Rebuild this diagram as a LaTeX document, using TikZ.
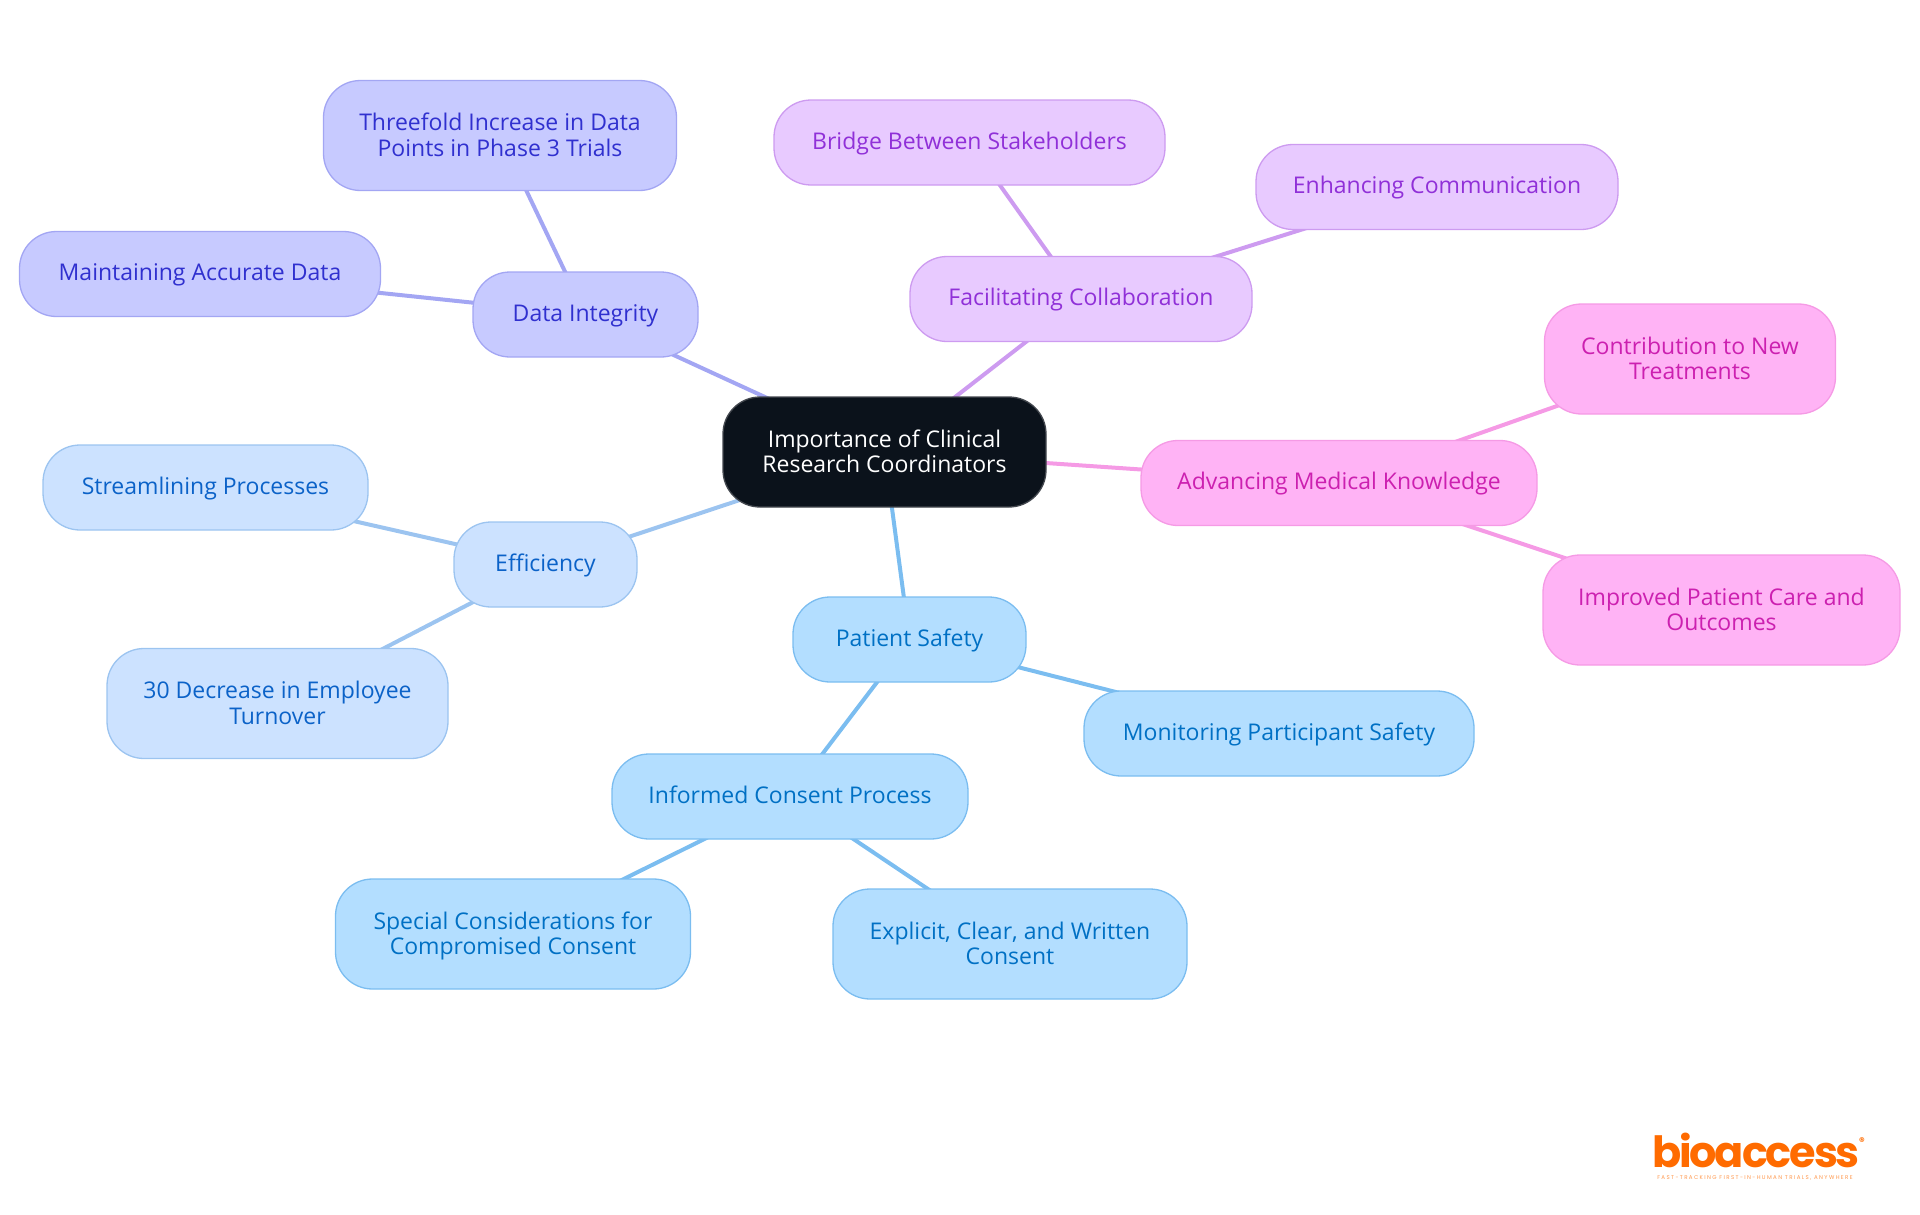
\documentclass[tikz,border=0pt]{standalone}
\usepackage{fontspec}
\setmainfont{Open Sans}
\newfontfamily\logofont[LetterSpace=-5]{Poppins}
\newfontfamily\regfont{Poppins}
\newfontfamily\tagfont[LetterSpace=25]{Poppins}
\usepackage{tikz}
\usetikzlibrary{backgrounds}
\definecolor{rootfill}{HTML}{0B121B}
\definecolor{rootline}{HTML}{43474E}
\definecolor{indigofill}{HTML}{C7CAFF}
\definecolor{indigoline}{HTML}{A3A6F3}
\definecolor{indigotext}{HTML}{3030CF}
\definecolor{purplefill}{HTML}{E8CAFF}
\definecolor{purpleline}{HTML}{CD9BF0}
\definecolor{purpletext}{HTML}{9030D8}
\definecolor{pinkfill}{HTML}{FFB3F5}
\definecolor{pinkline}{HTML}{F59AE5}
\definecolor{pinktext}{HTML}{CC20B0}
\definecolor{skyfill}{HTML}{B3DEFF}
\definecolor{skyline}{HTML}{7BBDF0}
\definecolor{skytext}{HTML}{0070C4}
\definecolor{bluefill}{HTML}{CCE2FF}
\definecolor{blueline}{HTML}{9CC4F0}
\definecolor{bluetext}{HTML}{0B62C8}
\definecolor{logoorange}{HTML}{FF6B00}

\begin{document}
\begin{tikzpicture}[x=1pt, y=-1pt,
    box/.style = {rounded corners=37pt, line width=1.3pt, inner sep=0pt, align=center,
      font=\fontsize{23}{25.5}\selectfont},
    single/.style = {box, minimum height=85pt, minimum width=#1, text height=19pt, text depth=6pt},
    double/.style = {box, minimum height=110pt, minimum width=#1, text height=47.5pt, text depth=6pt},
    root/.style = {draw=rootline, fill=rootfill, text=white},
    indigo/.style = {draw=indigoline, fill=indigofill, text=indigotext},
    purple/.style = {draw=purpleline, fill=purplefill, text=purpletext},
    pink/.style = {draw=pinkline, fill=pinkfill, text=pinktext},
    sky/.style = {draw=skyline, fill=skyfill, text=skytext},
    blue/.style = {draw=blueline, fill=bluefill, text=bluetext},
    link/.style = {line width=4pt}]
  \useasboundingbox (0,0) rectangle (1920,1215);

  \node[double=323pt, root] (main) at (884.5,452) {Importance of Clinical\\Research Coordinators};

  \node[single=225pt, indigo] (integrity) at (585.5,314.5) {Data Integrity};
  \node[double=353pt, indigo] (threefold) at (500,135.5) {Threefold Increase in Data\\Points in Phase 3 Trials};
  \node[single=361pt, indigo] (accurate) at (200,274) {Maintaining Accurate Data};

  \node[single=342pt, purple] (collab) at (1081,299) {Facilitating Collaboration};
  \node[single=391pt, purple] (bridge) at (969.5,142.5) {Bridge Between Stakeholders};
  \node[single=362pt, purple] (comm) at (1437,187) {Enhancing Communication};

  \node[single=396pt, pink] (medical) at (1339,483) {Advancing Medical Knowledge};
  \node[double=291pt, pink] (treat) at (1690,359) {Contribution to New\\Treatments};
  \node[double=357pt, pink] (care) at (1721.5,610) {Improved Patient Care and\\Outcomes};

  \node[single=183pt, blue] (effic) at (545.5,564.5) {Efficiency};
  \node[single=325pt, blue] (stream) at (205.5,487.5) {Streamlining Processes};
  \node[double=341pt, blue] (turnover) at (277.5,703.5) {30 Decrease in Employee\\Turnover};

  \node[single=233pt, sky] (safety) at (909.5,639.5) {Patient Safety};
  \node[single=390pt, sky] (monitor) at (1279,733.5) {Monitoring Participant Safety};
  \node[single=356pt, sky] (consent) at (790,796.5) {Informed Consent Process};
  \node[double=355pt, sky] (special) at (513,934) {Special Considerations for\\Compromised Consent};
  \node[double=354pt, sky] (explicit) at (1010,944) {Explicit, Clear, and Written\\Consent};

  \begin{scope}[on background layer]
    \draw[link, indigoline] (main.center) -- (integrity.center);
    \draw[link, indigoline] (integrity.center) -- (threefold.center);
    \draw[link, indigoline] (integrity.center) -- (accurate.center);
    \draw[link, purpleline] (main.center) -- (collab.center);
    \draw[link, purpleline] (collab.center) -- (bridge.center);
    \draw[link, purpleline] (collab.center) -- (comm.center);
    \draw[link, pinkline] (main.center) -- (medical.center);
    \draw[link, pinkline] (medical.center) -- (treat.center);
    \draw[link, pinkline] (medical.center) -- (care.center);
    \draw[link, blueline] (main.center) -- (effic.center);
    \draw[link, blueline] (effic.center) -- (stream.center);
    \draw[link, blueline] (effic.center) -- (turnover.center);
    \draw[link, skyline] (main.center) -- (safety.center);
    \draw[link, skyline] (safety.center) -- (monitor.center);
    \draw[link, skyline] (safety.center) -- (consent.center);
    \draw[link, skyline] (consent.center) -- (special.center);
    \draw[link, skyline] (consent.center) -- (explicit.center);
  \end{scope}

  % logo
  \node[anchor=base, inner sep=0pt, text=logoorange, font=\logofont\bfseries\fontsize{43}{43}\selectfont] (logo) at (1756,1167) {bioaccess};
  \node[inner sep=0pt, text=logoorange, font=\regfont\bfseries\fontsize{11}{11}\selectfont] (reg) at (1862,1142) {®};
  \node[inner sep=0pt, text=logoorange!70, font=\tagfont\fontsize{5.5}{6}\selectfont] (tag) at (1755,1178) {FAST-TRACKING FIRST-IN-HUMAN TRIALS, ANYWHERE};
\end{tikzpicture}
\end{document}
